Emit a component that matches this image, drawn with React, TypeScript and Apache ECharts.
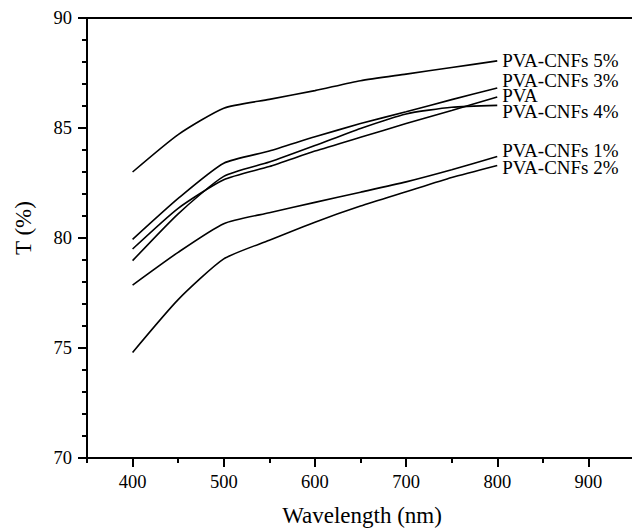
import React, { useEffect, useRef } from "react";
import * as echarts from "echarts";

const wavelengths = [400, 450, 500, 550, 600, 650, 700, 750, 800];
const seriesNames = ["PVA-CNFs 5%", "PVA-CNFs 3%", "PVA", "PVA-CNFs 4%", "PVA-CNFs 1%", "PVA-CNFs 2%"];
const cnf5 = [83.0, 84.7, 85.9, 86.3, 86.7, 87.15, 87.45, 87.75, 88.05];
const cnf3 = [79.94, 81.8, 83.4, 83.95, 84.6, 85.2, 85.74, 86.29, 86.82];
const pva = [79.5, 81.35, 82.65, 83.25, 83.95, 84.58, 85.2, 85.8, 86.41];
const cnf4 = [78.97, 81.1, 82.8, 83.45, 84.2, 84.98, 85.64, 85.94, 86.03];
const cnf1 = [77.86, 79.35, 80.65, 81.15, 81.62, 82.08, 82.55, 83.1, 83.7];
const cnf2 = [74.8, 77.2, 79.05, 79.9, 80.72, 81.45, 82.1, 82.75, 83.3];
const majorXTicks = [400, 500, 600, 700, 800, 900];
const xAxisTitle = "Wavelength (nm)";
const yAxisTitle = "T (%)";

const FONT = "Liberation Serif";

export default function App() {
  const ref = useRef<HTMLDivElement>(null);

  useEffect(() => {
    document.body.style.margin = "0";
    document.body.style.overflow = "hidden";
    document.documentElement.style.overflow = "hidden";
    if (!ref.current) return;
    const chart = echarts.init(ref.current, undefined, { renderer: "svg" });
    const values = [cnf5, cnf3, pva, cnf4, cnf1, cnf2];
    const labelOffsets = [[0, 0], [0, -7], [0, -1], [0, 6], [0, -6], [0, 2]];

    const series = seriesNames.map((name, i) => ({
      name,
      type: "line",
      xAxisIndex: 0,
      yAxisIndex: 0,
      data: wavelengths.map((w, j) => [w, values[i][j]]),
      smooth: 0.2,
      showSymbol: false,
      symbol: "none",
      lineStyle: { color: "#000", width: 1.6 },
      itemStyle: { color: "#000" },
      endLabel: {
        show: true,
        formatter: "{a}",
        fontFamily: FONT,
        fontSize: 19,
        lineHeight: 14,
        color: "#000",
        distance: 5,
        offset: labelOffsets[i],
      },
      emphasis: { disabled: true },
    }));

    const xMin = 350;
    const xMax = 950;

    chart.setOption({
      animation: false,
      backgroundColor: "#fff",
      grid: {
        left: 87,
        top: 18,
        right: -2,
        bottom: 70,
        containLabel: false,
        outerBoundsMode: "none",
      },
      xAxis: [
        {
          type: "value",
          position: "bottom",
          min: xMin,
          max: xMax,
          interval: 50,
          axisLine: { show: true, lineStyle: { color: "#000", width: 2 } },
          axisTick: { show: true, length: 5, inside: false, lineStyle: { color: "#000", width: 2 } },
          axisLabel: { show: false },
          splitLine: { show: false },
        },
        {
          type: "value",
          position: "bottom",
          min: xMin,
          max: xMax,
          axisLine: { show: false },
          axisTick: {
            show: true,
            length: 9,
            customValues: majorXTicks,
            lineStyle: { color: "#000", width: 2 },
          },
          axisLabel: {
            show: true,
            customValues: majorXTicks,
            margin: 14,
            fontFamily: FONT,
            fontSize: 18.5,
            color: "#000",
          },
          splitLine: { show: false },
        },
        {
          type: "value",
          position: "top",
          min: xMin,
          max: xMax,
          axisLine: { show: true, lineStyle: { color: "#000", width: 2 } },
          axisTick: { show: false },
          axisLabel: { show: false },
          splitLine: { show: false },
        },
      ],
      yAxis: [
        {
          type: "value",
          position: "left",
          min: 70,
          max: 90,
          interval: 5,
          axisLine: { show: true, lineStyle: { color: "#000", width: 2 } },
          axisTick: { show: true, length: 9, lineStyle: { color: "#000", width: 2 } },
          minorTick: { show: true, splitNumber: 5, length: 5, lineStyle: { color: "#000", width: 2 } },
          axisLabel: { margin: 15, fontFamily: FONT, fontSize: 18.5, color: "#000" },
          splitLine: { show: false },
          minorSplitLine: { show: false },
        },
      ],
      graphic: [
        {
          type: "text",
          x: 362,
          y: 515,
          style: {
            text: xAxisTitle,
            fontFamily: FONT,
            fontSize: 23,
            fill: "#000",
            align: "center",
            verticalAlign: "middle",
          },
        },
        {
          type: "text",
          x: 23,
          y: 228,
          rotation: Math.PI / 2,
          style: {
            text: yAxisTitle,
            fontFamily: FONT,
            fontSize: 23,
            fill: "#000",
            align: "center",
            verticalAlign: "middle",
          },
        },
      ],
      series,
    });

    return () => chart.dispose();
  }, []);

  return <div ref={ref} style={{ width: 632, height: 528 }} />;
}
